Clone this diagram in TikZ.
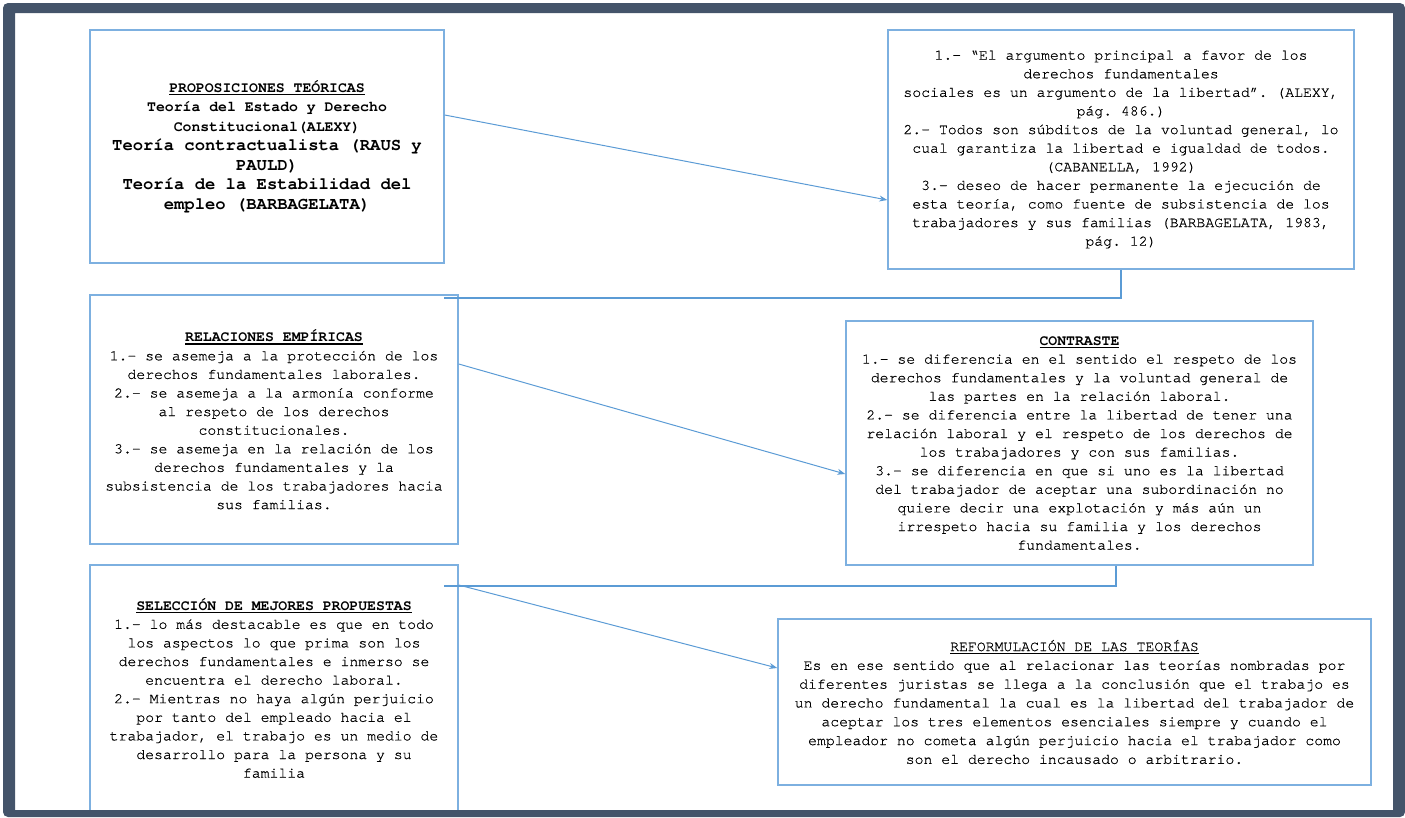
\documentclass[tikz,border=0pt]{standalone}
\usepackage{fontspec}
\setmainfont{texgyrecursor}[Extension=.otf, UprightFont=*-regular, BoldFont=*-bold, UprightFeatures={FakeBold=0.6}]
\usepackage{tikz}
\usetikzlibrary{arrows.meta,positioning}
\usepackage{xcolor}
\definecolor{marco}{RGB}{68,84,106}
\definecolor{borde}{RGB}{125,176,224}
\definecolor{flecha}{RGB}{91,155,213}
\newcommand{\letra}[2]{\fontsize{#1}{#2}\selectfont\spaceskip=0.6em\relax}
\newcommand{\ulhead}[1]{\setbox0\hbox{#1}\rlap{\rule[-3pt]{\wd0}{1.4pt}}\box0}

\begin{document}
\frenchspacing
\begin{tikzpicture}[x=1pt, y=-1pt,
        caja/.style={draw=borde, line width=1.5pt, inner sep=0pt, align=center, font=\letra{14.8}{18.6}, execute at begin node={\spaceskip=0.6em\relax}},
        flechita/.style={draw=flecha, line width=1pt, -{Stealth[length=8pt,width=6pt]}},
        codo/.style={draw=flecha, line width=1.2pt}]
        \useasboundingbox (0,0) rectangle (1405,817);
        \node[caja, minimum width=354, minimum height=233, text width=346, font=\letra{14.8}{19.5}] (prop) at (267,146.5) {\ulhead{\textbf{PROPOSICIONES TEÓRICAS}}\\ \textbf{Teoría del Estado y Derecho}\\ \textbf{Constitucional(ALEXY)}\\ {\letra{17.2}{19.5}\bfseries Teoría contractualista (RAUS y\\ PAULD)\\ Teoría de la Estabilidad del\\ empleo (BARBAGELATA)\par}};
        \node[caja, minimum width=466, minimum height=239, text width=458] (cita) at (1121,149.5) {1.- “El argumento principal a favor de los\\ derechos fundamentales\\ sociales es un argumento de la libertad”. (ALEXY,\\ pág. 486.)\\ 2.- Todos son súbditos de la voluntad general, lo\\ cual garantiza la libertad e igualdad de todos.\\ (CABANELLA, 1992)\\ 3.- deseo de hacer permanente la ejecución de\\ esta teoría, como fuente de subsistencia de los\\ trabajadores y sus familias (BARBAGELATA, 1983,\\ pág. 12)};
        \node[caja, minimum width=368, minimum height=249, text width=360] (rel) at (274,419.5) {\ulhead{\textbf{RELACIONES EMPÍRICAS}}\\ 1.- se asemeja a la protección de los\\ derechos fundamentales laborales.\\ 2.- se asemeja a la armonía conforme\\ al respeto de los derechos\\ constitucionales.\\ 3.- se asemeja en la relación de los\\ derechos fundamentales y la\\ subsistencia de los trabajadores hacia\\ sus familias.};
        \node[caja, minimum width=467, minimum height=244, text width=459] (contr) at (1079.5,443) {\ulhead{\textbf{CONTRASTE}}\\ 1.- se diferencia en el sentido el respeto de los\\ derechos fundamentales y la voluntad general de\\ las partes en la relación laboral.\\ 2.- se diferencia entre la libertad de tener una\\ relación laboral y el respeto de los derechos de\\ los trabajadores y con sus familias.\\ 3.- se diferencia en que si uno es la libertad\\ del trabajador de aceptar una subordinación no\\ quiere decir una explotación y más aún un\\ irrespeto hacia su familia y los derechos\\ fundamentales.};
        \node[caja, minimum width=368, minimum height=246, text width=360] (sel) at (274,688) {\ulhead{\textbf{SELECCIÓN DE MEJORES PROPUESTAS}}\\ 1.- lo más destacable es que en todo\\ los aspectos lo que prima son los\\ derechos fundamentales e inmerso se\\ encuentra el derecho laboral.\\ 2.- Mientras no haya algún perjuicio\\ por tanto del empleado hacia el\\ trabajador, el trabajo es un medio de\\ desarrollo para la persona y su\\ familia};
        \node[caja, minimum width=593, minimum height=166, text width=585, font=\letra{14.8}{18.8}] (reform) at (1074.5,702) {\ulhead{REFORMULACIÓN DE LAS TEORÍAS}\\ Es en ese sentido que al relacionar las teorías nombradas por\\ diferentes juristas se llega a la conclusión que el trabajo es\\ un derecho fundamental la cual es la libertad del trabajador de\\ aceptar los tres elementos esenciales siempre y cuando el\\ empleador no cometa algún perjuicio hacia el trabajador como\\ son el derecho incausado o arbitrario.};
        % conectores
        \coordinate (finA) at (444,298);
        \coordinate (finB) at (444,586);
        \draw[flechita] ([yshift=31.5pt]prop.east) -- ([yshift=-50.5pt]cita.west);
        \draw[flechita] ([yshift=55.5pt]rel.east) -- ([yshift=-31pt]contr.west);
        \draw[flechita] ([yshift=103pt]sel.east) -- ([yshift=34pt]reform.west);
        \draw[codo] (cita.south) |- (finA);
        \draw[codo] ([xshift=36.5pt]contr.south) |- (finB);
        % marco
        \fill[marco, even odd rule] [rounded corners=5pt] (3,3) rectangle (1405,817) [sharp corners] (15,13) rectangle (1393,810);
\end{tikzpicture}
\end{document}
